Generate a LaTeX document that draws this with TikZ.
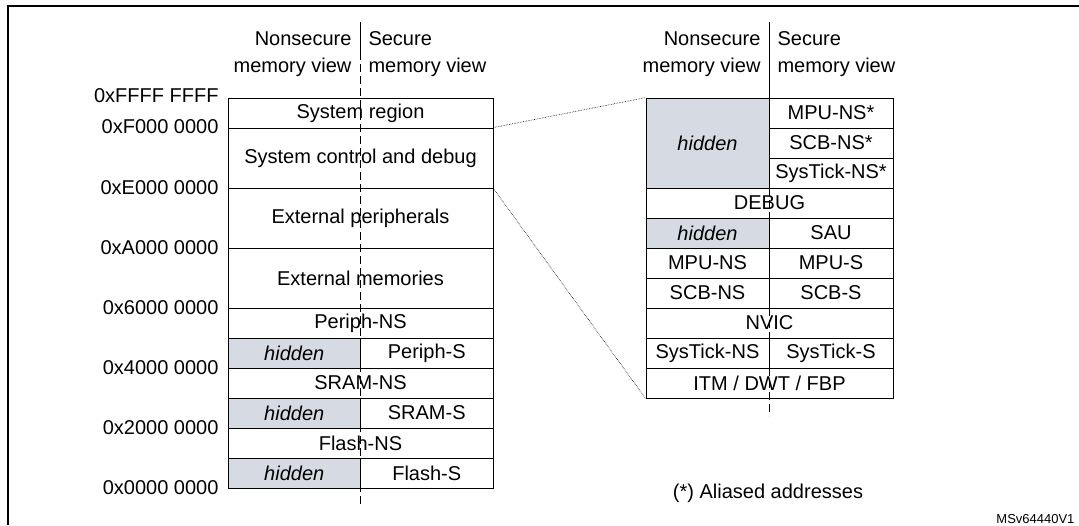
\documentclass[tikz,border=0pt]{standalone}
\usepackage{fontspec}
\setmainfont{Liberation Sans}
\definecolor{hidgray}{RGB}{214,218,226}
\begin{document}
\begin{tikzpicture}[x=1pt,y=-1pt,
	cell/.style={draw, thick, inner sep=0pt, minimum height=30pt, font=\fontsize{20}{22}\selectfont},
	full/.style={cell, minimum width=265pt},
	half/.style={cell, minimum width=132.5pt},
	rfull/.style={cell, minimum width=247pt},
	lhalf/.style={cell, minimum width=123pt},
	rhalf/.style={cell, minimum width=124pt},
	hid/.style={fill=hidgray, font=\fontsize{20}{22}\selectfont\itshape},
	addr/.style={anchor=east, font=\fontsize{20}{22}\selectfont},
	head/.style={font=\fontsize{20}{27}\selectfont}]
	\useasboundingbox (0,0) rectangle (1079,525);
	\draw[line width=2pt] (8,525) -- (8,6) -- (1079,6);

		% left map
		\node[full] (sysreg) at (360.5,113) {System region};
		\node[full, minimum height=60pt] (sysctl) at (360.5,158) {System control and debug};
		\node[full, minimum height=60pt] (extper) at (360.5,218) {External peripherals};
		\node[full, minimum height=60pt] (extmem) at (360.5,278) {External memories};
		\node[full] (perns) at (360.5,323) {Periph-NS};
		\node[half, hid] (hid1) at (294.25,353) {hidden};
		\node[half] (pers) at (426.75,353) {Periph-S};
		\node[full] (sramns) at (360.5,383) {SRAM-NS};
		\node[half, hid] (hid2) at (294.25,413) {hidden};
		\node[half] (srams) at (426.75,413) {SRAM-S};
		\node[full] (flns) at (360.5,443) {Flash-NS};
		\node[half, hid] (hid3) at (294.25,473) {hidden};
		\node[half] (fls) at (426.75,473) {Flash-S};

		\node[addr] (a1) at (222,96) {0xFFFF FFFF};
		\node[addr] (a2) at (222,127) {0xF000 0000};
		\node[addr] (a3) at (222,188) {0xE000 0000};
		\node[addr] (a4) at (222,248) {0xA000 0000};
		\node[addr] (a5) at (222,308) {0x6000 0000};
		\node[addr] (a6) at (222,368) {0x4000 0000};
		\node[addr] (a7) at (222,428) {0x2000 0000};
		\node[addr] (a8) at (222,488) {0x0000 0000};

		\node[head, anchor=east, align=right] (lns) at (355,54) {Nonsecure\\memory view};
		\node[head, anchor=west, align=left] (ls) at (365,54) {Secure\\memory view};
		\draw (360,22) -- (360,52);
		\draw[dashed, dash pattern=on 8pt off 4pt] (360,52) -- (360,506);

		% right map
		\node[lhalf, hid, minimum height=90pt] (hid4) at (707.5,143) {hidden};
		\node[rhalf] (mpunsa) at (831,113) {MPU-NS*};
		\node[rhalf] (scbnsa) at (831,143) {SCB-NS*};
		\node[rhalf] (stnsa) at (831,173) {SysTick-NS*};
		\node[rfull] (debug) at (769.5,203) {DEBUG};
		\node[lhalf, hid] (hid5) at (707.5,233) {hidden};
		\node[rhalf] (sau) at (831,233) {SAU};
		\node[lhalf] (mpuns) at (707.5,263) {MPU-NS};
		\node[rhalf] (mpus) at (831,263) {MPU-S};
		\node[lhalf] (scbns) at (707.5,293) {SCB-NS};
		\node[rhalf] (scbs) at (831,293) {SCB-S};
		\node[rfull] (nvic) at (769.5,323) {NVIC};
		\node[lhalf] (stns) at (707.5,353) {SysTick-NS};
		\node[rhalf] (sts) at (831,353) {SysTick-S};
		\node[rfull] (itm) at (769.5,383) {ITM / DWT / FBP};

		\node[head, anchor=east, align=right] (rns) at (764,54) {Nonsecure\\memory view};
		\node[head, anchor=west, align=left] (rs) at (774,54) {Secure\\memory view};
		\draw (769,22) -- (769,98);
		\draw[dashed, dash pattern=on 8pt off 4pt] (769,188) -- (769,218);
		\draw[dashed, dash pattern=on 8pt off 4pt] (769,308) -- (769,338);
		\draw[dashed, dash pattern=on 8pt off 4pt] (769,368) -- (769,416);

		\draw[densely dotted, semithick] (sysctl.north east) -- (hid4.north west);
		\draw[densely dotted, semithick] (sysctl.south east) -- (itm.south west);

		\node[head] (note) at (768,493) {(*) Aliased addresses};
		\node[font=\fontsize{13}{15}\selectfont, anchor=east] (ref) at (1078,519) {MSv64440V1};
	\end{tikzpicture}
\end{document}
